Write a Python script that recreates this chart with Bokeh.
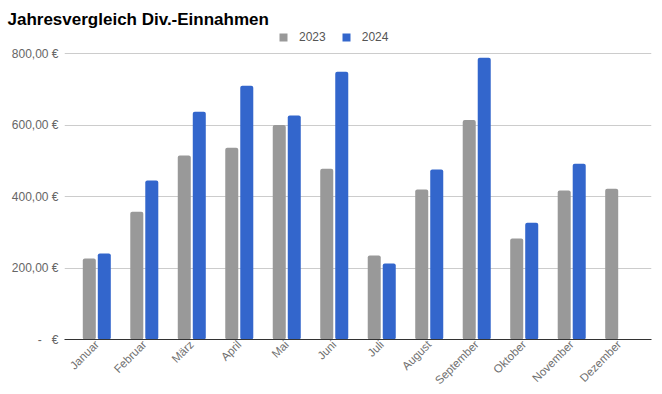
import math
from bokeh.plotting import figure
from bokeh.models import FactorRange, Range1d, Legend, LegendItem, FixedTicker, ColumnDataSource
from bokeh.transform import dodge
from bokeh.embed import file_html
from bokeh.resources import INLINE

months = ["Januar", "Februar", "März", "April", "Mai", "Juni", "Juli",
          "August", "September", "Oktober", "November", "Dezember"]
v2023 = [227, 358, 515, 537, 601, 478, 235, 420, 615, 283, 417, 422]
v2024 = [241, 445, 638, 711, 627, 750, 213, 476, 789, 327, 492, float("nan")]
y_ticks = [0, 200, 400, 600, 800]
y_tick_labels = ["-\u00a0\u00a0\u00a0€", "200,00 €", "400,00 €", "600,00 €", "800,00 €"]
series_names = ["2023", "2024"]

FONT = "Liberation Sans"
GRAY = "#999999"
BLUE = "#3366cc"

src = ColumnDataSource(dict(month=months, a=v2023, b=v2024))

p = figure(width=662, height=394, output_backend="svg", toolbar_location=None,
           x_range=FactorRange(*months, range_padding=0.18, range_padding_units="absolute"),
           y_range=Range1d(0, 871),
           min_border_left=64, min_border_right=11, min_border_top=28, min_border_bottom=55)
p.outline_line_color = None

r1 = p.vbar(x=dodge("month", -0.158, range=p.x_range), top="a", width=0.274, source=src,
            fill_color=GRAY, line_color=None, border_radius=2)
r2 = p.vbar(x=dodge("month", 0.158, range=p.x_range), top="b", width=0.274, source=src,
            fill_color=BLUE, line_color=None, border_radius=2)

p.title.text = "Jahresvergleich Div.-Einnahmen"
p.title.text_font = FONT
p.title.text_font_size = "17px"
p.title.text_font_style = "bold"
p.title.text_color = "#000000"
p.title.align = "left"
p.title.offset = -57
p.title.standoff = 0

p.yaxis.ticker = FixedTicker(ticks=y_ticks)
p.yaxis.major_label_overrides = {t: l for t, l in zip(y_ticks, y_tick_labels)}
p.yaxis.axis_line_color = None
p.yaxis.major_tick_line_color = None
p.yaxis.minor_tick_line_color = None
p.yaxis.major_tick_out = 0
p.yaxis.major_tick_in = 0
p.yaxis.major_label_standoff = 6
p.yaxis.major_label_text_font = FONT
p.yaxis.major_label_text_font_size = "12px"
p.yaxis.major_label_text_color = "#666666"

p.xaxis.axis_line_color = "#333333"
p.xaxis.major_tick_line_color = None
p.xaxis.major_tick_out = 0
p.xaxis.major_tick_in = 0
p.xaxis.major_label_orientation = math.pi / 4
p.xaxis.major_label_standoff = 3
p.xaxis.major_label_text_font = FONT
p.xaxis.major_label_text_font_size = "11.5px"
p.xaxis.major_label_text_color = "#6f6f6f"

p.xgrid.grid_line_color = None
p.ygrid.grid_line_color = "#cccccc"

legend = Legend(items=[LegendItem(label=series_names[0], renderers=[r1]),
                       LegendItem(label=series_names[1], renderers=[r2])],
                orientation="horizontal", location=(214, 295),
                glyph_width=10, glyph_height=10, label_height=12, label_standoff=11, spacing=15,
                padding=0, margin=0, border_line_color=None, background_fill_alpha=0,
                label_text_font=FONT, label_text_font_size="12px", label_text_color="#555555")
p.add_layout(legend)

open("out.html", "w").write(file_html(p, INLINE))
